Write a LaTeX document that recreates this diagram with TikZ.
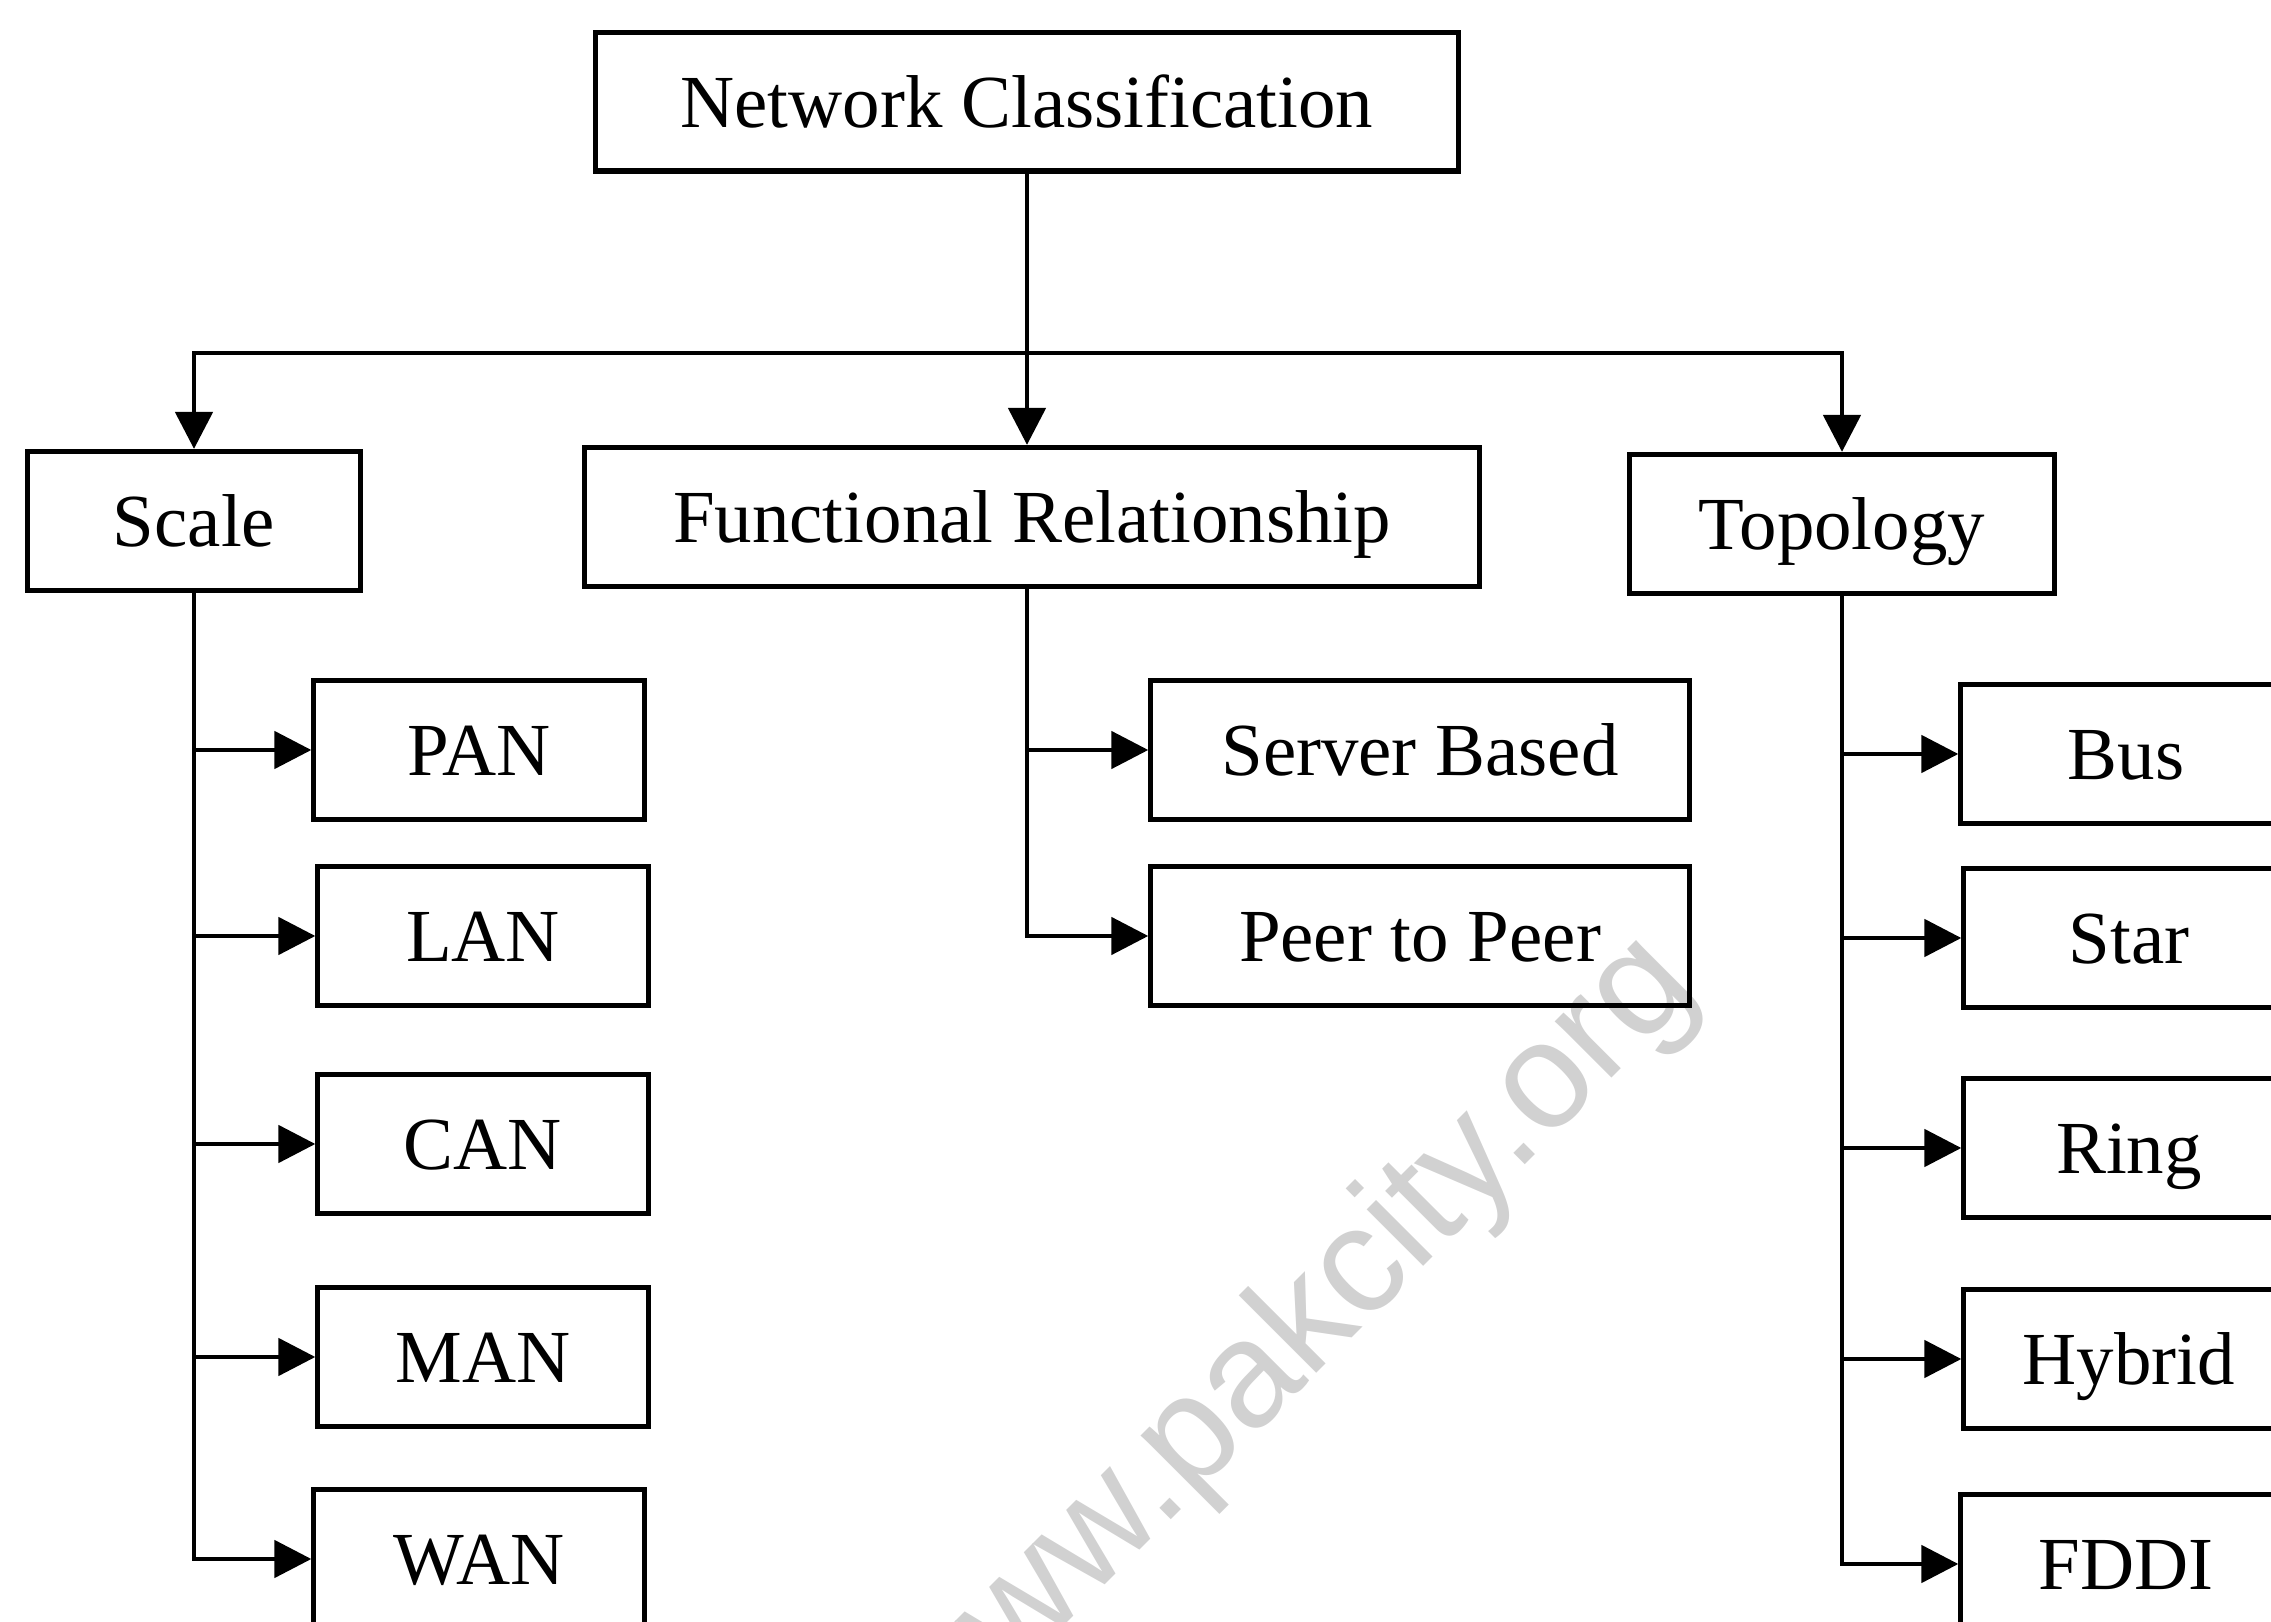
\documentclass[tikz,border=0pt]{standalone}
\usepackage{fontspec}
\setmainfont{Liberation Serif}
\newfontfamily\marksans{Liberation Sans}
\usetikzlibrary{arrows.meta}

\begin{document}
\begin{tikzpicture}[x=0.01cm, y=-0.01cm,
    box/.style={draw, line width=1.45pt, inner sep=0pt, minimum height=1.39cm,
                text height=0.6cm, text depth=0.1cm, font=\fontsize{21.3}{25}\selectfont},
    leaf/.style={box, minimum width=3.30cm},
    link/.style={line width=1.4pt, -{Triangle[length=0.37cm, width=0.37cm]}}]
    \useasboundingbox (0,0) rectangle (2271,1622);
    \clip (0,0) rectangle (2271,1622);

    % watermark
    \node[rotate=45, text=black!18, font=\marksans\fontsize{43}{48}\selectfont] (wmark) at (1290,1345) {www.pakcity.org};

    % top and second level
    \node[box, minimum width=8.63cm, minimum height=1.38cm] (net) at (1027,102) {Network Classification};
    \node[box, minimum width=3.32cm] (scale) at (194,521) {Scale};
    \node[box, minimum width=8.95cm] (func) at (1032,517) {Functional Relationship};
    \node[box, minimum width=4.24cm] (topo) at (1842,524) {Topology};

    \coordinate (hub) at (1027,353);
    \draw[link] (net.south) -- (net.south |- func.north);
    \draw[link] (hub) -| (scale.north);
    \draw[link] (hub) -| (topo.north);

    % scale
    \foreach \name/\txt/\x/\y in {pan/PAN/479/750, lan/LAN/483/936, can/CAN/483/1144,
                                  man/MAN/483/1357, wan/WAN/479/1559}
    {
        \node[leaf] (\name) at (\x,\y) {\txt};
        \draw[link] (scale.south) |- (\name.west);
    }

    % functional relationship
    \foreach \name/\txt/\y in {server/Server Based/750, peer/Peer to Peer/936}
    {
        \node[leaf, minimum width=5.38cm] (\name) at (1420,\y) {\txt};
        \draw[link] (net.south |- func.south) |- (\name.west);
    }

    % topology
    \foreach \name/\txt/\x/\y in {bus/Bus/2126/754, star/Star/2129/938, ring/Ring/2129/1148,
                                  hybrid/Hybrid/2129/1359, fddi/FDDI/2126/1564}
    {
        \node[leaf] (\name) at (\x,\y) {\txt};
        \draw[link] (topo.south) |- (\name.west);
    }
\end{tikzpicture}
\end{document}
